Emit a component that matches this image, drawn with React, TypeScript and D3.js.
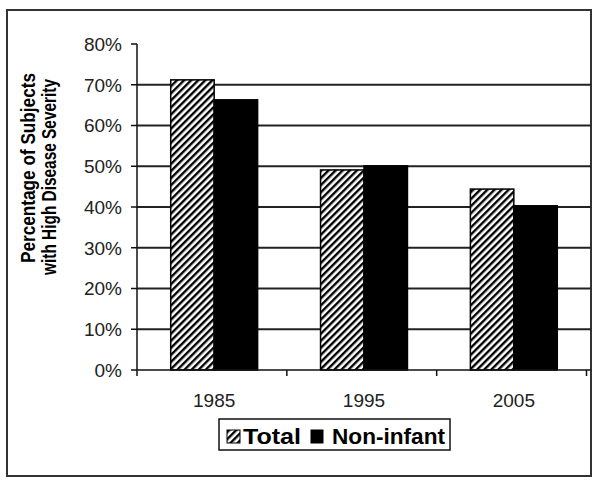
import React from 'react';
import * as d3 from 'd3';

// data
const years = ['1985', '1995', '2005'];
const series = ['Total', 'Non-infant'];
const totalValues = [0.712, 0.491, 0.444];
const nonInfantValues = [0.663, 0.501, 0.403];
const yTicks = [0, 0.1, 0.2, 0.3, 0.4, 0.5, 0.6, 0.7, 0.8];

const W = 600;
const H = 484;
const left = 137;
const right = 591;
const top = 44;
const bottom = 370;
const font = 'Liberation Sans, Arial, sans-serif';

const App = () => {
  const x0 = d3.scaleBand<string>().domain(years).range([left, right]).paddingInner(0.42).paddingOuter(0.225);
  const x1 = d3.scaleBand<string>().domain(series).range([0, x0.bandwidth()]);
  const y = d3.scaleLinear().domain([0, 0.8]).range([bottom, top]);
  const step = x0.step();
  const fmt = d3.format('.0%');

  const rows = years.map((yr, i) => ({ yr, vals: [totalValues[i], nonInfantValues[i]] }));

  return (
    <svg width={W} height={H} style={{ position: 'absolute', left: 0, top: 0, background: '#fff' }}>
      <defs>
        <pattern id="hatch" width="5" height="5" patternUnits="userSpaceOnUse" patternTransform="rotate(45)">
          <rect width="5" height="5" fill="#fff" />
          <line x1="1.2" y1="0" x2="1.2" y2="5" stroke="#000" strokeWidth="2.4" />
        </pattern>
      </defs>

      {/* outer border */}
      <rect x={7} y={10} width={584} height={466} fill="#fff" stroke="#333" strokeWidth={2} />

      {/* gridlines */}
      {yTicks.filter(t => t > 0 && t < 0.8).map(t => (
        <line key={t} x1={left} x2={right} y1={y(t)} y2={y(t)} stroke="#222" strokeWidth={2} />
      ))}

      {/* bars */}
      {rows.map(r => (
        <g key={r.yr} transform={`translate(${x0(r.yr)},0)`}>
          {r.vals.map((v, j) => (
            <rect
              key={series[j]}
              x={x1(series[j])}
              y={y(v)}
              width={x1.bandwidth()}
              height={bottom - y(v)}
              fill={j === 0 ? 'url(#hatch)' : '#000'}
              stroke="#000"
              strokeWidth={1.5}
            />
          ))}
        </g>
      ))}

      {/* y axis */}
      <line x1={left} x2={left} y1={top} y2={bottom} stroke="#111" strokeWidth={1.5} />
      {yTicks.map(t => (
        <g key={t}>
          <line x1={left - 6} x2={left} y1={y(t)} y2={y(t)} stroke="#111" strokeWidth={1.5} />
          <text x={left - 15} y={y(t)} dy="0.36em" textAnchor="end" fontFamily={font} fontSize={19} fill="#222">
            {fmt(t)}
          </text>
        </g>
      ))}

      {/* x axis */}
      <line x1={left} x2={right} y1={bottom} y2={bottom} stroke="#111" strokeWidth={1.5} />
      {d3.range(years.length + 1).map(i => (
        <line key={i} x1={left + i * step} x2={left + i * step} y1={bottom} y2={bottom + 6} stroke="#111" strokeWidth={1.5} />
      ))}
      {years.map(yr => (
        <text key={yr} x={(x0(yr) ?? 0) + x0.bandwidth() / 2} y={407} textAnchor="middle" fontFamily={font} fontSize={19} fill="#222">
          {yr}
        </text>
      ))}

      {/* y axis title */}
      <g fontFamily={font} fontWeight="bold" fontSize={20} fill="#000">
        <text transform="translate(35,168) rotate(-90)" textAnchor="middle" textLength={190} lengthAdjust="spacingAndGlyphs">
          Percentage of Subjects
        </text>
        <text transform="translate(56,177) rotate(-90)" textAnchor="middle" textLength={196} lengthAdjust="spacingAndGlyphs">
          with High Disease Severity
        </text>
      </g>

      {/* legend */}
      <g fontFamily={font} fontWeight="bold" fontSize={22} fill="#000">
        <rect x={219} y={419} width={231} height={31} fill="#fff" stroke="#111" strokeWidth={1.5} />
        <rect x={227} y={430} width={13} height={13} fill="url(#hatch)" stroke="#000" strokeWidth={1} />
        <text x={243} y={444} textLength={58} lengthAdjust="spacingAndGlyphs">{series[0]}</text>
        <rect x={311} y={430} width={12} height={13} fill="#000" stroke="#000" strokeWidth={1} />
        <text x={332} y={444} textLength={113} lengthAdjust="spacingAndGlyphs">{series[1]}</text>
      </g>
    </svg>
  );
};

export default App;
